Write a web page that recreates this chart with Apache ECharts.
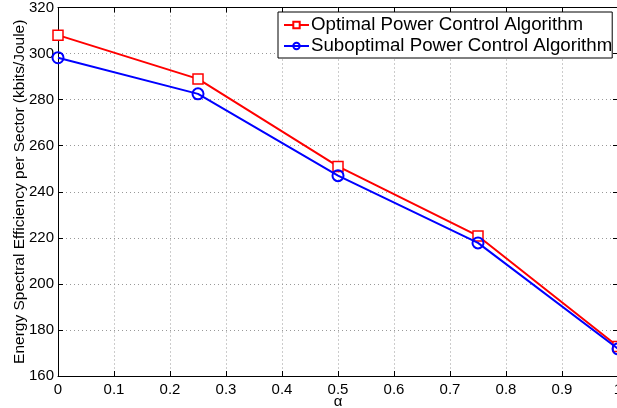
<!DOCTYPE html>
<html><head><meta charset="utf-8">
<script src="https://cdn.jsdelivr.net/npm/echarts@6/dist/echarts.min.js"></script>
<style>html,body{margin:0;padding:0;background:#fff}#c{width:617px;height:408px}</style>
</head><body><div id="c"></div>
<script>
const alphaValues = [0, 0.25, 0.5, 0.75, 1];
const optimalValues = [308, 289, 251, 220.8, 172.8];
const suboptimalValues = [298.2, 282.5, 247, 217.8, 171.8];
const xTicks = [0, 0.1, 0.2, 0.3, 0.4, 0.5, 0.6, 0.7, 0.8, 0.9, 1];
const yTicks = [160, 180, 200, 220, 240, 260, 280, 300, 320];
const seriesNames = ['Optimal Power Control Algorithm', 'Suboptimal Power Control Algorithm'];

const font = 'Liberation Sans, Arial, sans-serif';
const chart = echarts.init(document.getElementById('c'), null, {renderer: 'canvas'});
const axisCommon = {
  axisLine: {show: true, onZero: false, lineStyle: {color: '#000', width: 1}},
  axisTick: {show: true, inside: true, length: 5, lineStyle: {color: '#000'}},
};
chart.setOption({
  animation: false,
  backgroundColor: '#fff',
  grid: {left: 58, right: -1, top: 7.5, bottom: 32, containLabel: false, outerBoundsMode: 'none'},
  legend: {
    left: 278, top: 12, orient: 'vertical',
    data: seriesNames,
    backgroundColor: '#fff', borderColor: '#000', borderWidth: 1,
    padding: [3, 0, 2, 5], itemGap: 1, itemWidth: 25, itemHeight: 8,
    textStyle: {fontFamily: font, fontSize: 18.7, lineHeight: 20, color: '#000', padding: [0, 0, 0, -3]}
  },
  xAxis: [{
    type: 'value', min: 0, max: 1, interval: 0.1, position: 'bottom',
    name: 'α', nameLocation: 'middle', nameGap: 18, nameMoveOverlap: false,
    nameTextStyle: {fontFamily: font, fontSize: 15, color: '#000'},
    ...axisCommon,
    axisLabel: {fontFamily: font, fontSize: 15, color: '#000', margin: 6,
      formatter: v => { const t = xTicks.find(x => Math.abs(x - v) < 1e-9); return t === undefined ? '' : String(t); }},
    splitLine: {show: true, lineStyle: {color: '#999', type: [1, 3], width: 1}}
  }, {
    type: 'value', min: 0, max: 1, interval: 0.1, position: 'top',
    ...axisCommon, axisLabel: {show: false}, splitLine: {show: false}
  }],
  yAxis: [{
    type: 'value', min: 160, max: 320, interval: 20, position: 'left',
    name: 'Energy Spectral Efficiency per Sector (kbits/Joule)',
    nameLocation: 'middle', nameGap: 30, nameRotate: 90, nameMoveOverlap: false,
    nameTextStyle: {fontFamily: font, fontSize: 15.5, color: '#000'},
    ...axisCommon,
    axisLabel: {fontFamily: font, fontSize: 15, color: '#000', margin: 4,
      formatter: v => yTicks.includes(v) ? String(v) : ''},
    splitLine: {show: true, lineStyle: {color: '#999', type: [1, 3], width: 1}}
  }, {
    type: 'value', min: 160, max: 320, interval: 20, position: 'right',
    ...axisCommon, axisLabel: {show: false}, splitLine: {show: false}
  }],
  series: [{
    name: seriesNames[0], type: 'line',
    data: alphaValues.map((x, i) => [x, optimalValues[i]]),
    symbol: 'rect', symbolSize: 10, showAllSymbol: true,
    lineStyle: {color: '#ff0000', width: 2},
    itemStyle: {color: '#fff', borderColor: '#ff0000', borderWidth: 1.5},
    z: 3
  }, {
    name: seriesNames[1], type: 'line',
    data: alphaValues.map((x, i) => [x, suboptimalValues[i]]),
    symbol: 'circle', symbolSize: 11, showAllSymbol: true,
    lineStyle: {color: '#0000ff', width: 2},
    itemStyle: {color: 'rgba(255,255,255,0)', borderColor: '#0000ff', borderWidth: 2},
    z: 4
  }]
});
</script></body></html>
